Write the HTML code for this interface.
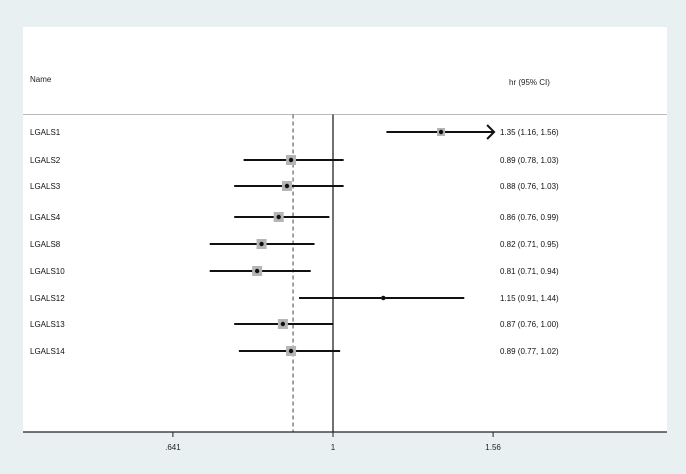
<!DOCTYPE html>
<html><head><meta charset="utf-8"><style>
body{margin:0;background:#e9f0f2;}
svg{display:block;font-family:"Liberation Sans",Arial,sans-serif;}
</style></head><body>
<svg width="686" height="474" viewBox="0 0 686 474">
<rect x="0" y="0" width="686" height="474" fill="#e9f0f2"/>
<rect x="23" y="27" width="644" height="405" fill="#ffffff"/>
<line x1="23" y1="114.5" x2="667" y2="114.5" stroke="#bbbbbb" stroke-width="1"/>
<text x="30" y="82" font-size="8" fill="#222">Name</text>
<text x="509" y="85" font-size="8" fill="#222">hr (95% CI)</text>
<g id="plot"></g>
</svg>
<script>
const names=["LGALS1","LGALS2","LGALS3","LGALS4","LGALS8","LGALS10","LGALS12","LGALS13","LGALS14"];
const hr=[1.35,0.89,0.88,0.86,0.82,0.81,1.15,0.87,0.89];
const lo=[1.16,0.78,0.76,0.76,0.71,0.71,0.91,0.76,0.77];
const hi=[1.56,1.03,1.03,0.99,0.95,0.94,1.44,1.00,1.02];
const labels=["1.35 (1.16, 1.56)","0.89 (0.78, 1.03)","0.88 (0.76, 1.03)","0.86 (0.76, 0.99)","0.82 (0.71, 0.95)","0.81 (0.71, 0.94)","1.15 (0.91, 1.44)","0.87 (0.76, 1.00)","0.89 (0.77, 1.02)"];
const weights=[8,10,10,10,10,10,4,10,10];
const rowY=[132,160,186,217,244,271,298,324,351];
const ticks=[0.641,1,1.56];
const tickLabels=[".641","1","1.56"];
const overall=0.895;
const NS="http://www.w3.org/2000/svg";
const g=document.getElementById('plot');
function xs(v){return 333+360*Math.log(v);}
function mk(t,a){const e=document.createElementNS(NS,t);for(const k in a)e.setAttribute(k,a[k]);g.appendChild(e);return e;}
let e;
e=mk('line',{x1:xs(1),y1:114.5,x2:xs(1),y2:432,stroke:'#111','stroke-width':1.2});


e=mk('line',{x1:xs(overall),y1:114.5,x2:xs(overall),y2:432,stroke:'#444','stroke-width':1,'stroke-dasharray':'4,3'});


e=mk('line',{x1:23,y1:432,x2:667,y2:432,stroke:'#222','stroke-width':1.2});


ticks.forEach((t,i)=>{
 e=mk('line',{x1:xs(t),y1:432,x2:xs(t),y2:437,stroke:'#222','stroke-width':1});
 
 
 e=mk('text',{x:xs(t),y:450,'font-size':8,'text-anchor':'middle',fill:'#222'});
 e.textContent=tickLabels[i];
 
 
});
names.forEach((n,i)=>{
 const y=rowY[i];
 e=mk('text',{x:30,y:y+3,'font-size':8,fill:'#111'});
 e.textContent=n;
 
 
 const capped=hi[i]>=1.56;
 const x2=capped?xs(1.56)+1:xs(hi[i]);
 e=mk('line',{x1:xs(lo[i]),y1:y,x2:x2,y2:y,stroke:'#111','stroke-width':2});
 
 
 if(capped){
  e=mk('polyline',{points:`${x2-7},${y-7} ${x2},${y} ${x2-7},${y+7}`,fill:'none',stroke:'#111','stroke-width':2});
  
  
 }
 const w=weights[i];
 e=mk('rect',{x:xs(hr[i])-w/2,y:y-w/2,width:w,height:w,fill:'#b5b5b5'});
 
 
 e=mk('circle',{cx:xs(hr[i]),cy:y,r:2.2,fill:'#111'});
 
 
 e=mk('text',{x:500,y:y+3,'font-size':8,fill:'#111'});
 e.textContent=labels[i];
 
 
});
</script>
</body></html>
